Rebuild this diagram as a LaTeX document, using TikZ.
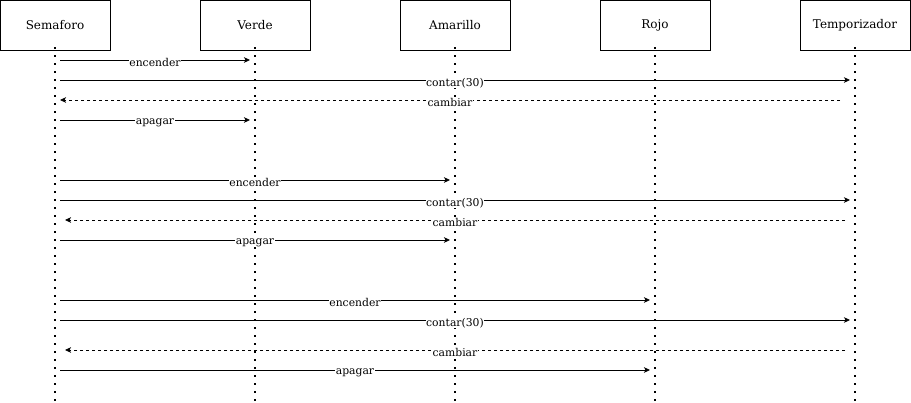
\documentclass[tikz,border=0pt]{standalone}
\usepackage{fontspec}
\setmainfont{DejaVu Serif}
\usetikzlibrary{arrows.meta,calc}
\begin{document}
\begin{tikzpicture}[x=1pt,y=-1pt,
  actor/.style={draw,line width=0.8pt,minimum width=110pt,minimum height=50pt,inner sep=0pt,font=\fontsize{12}{14}\selectfont},
  life/.style={line width=1.6pt,dash pattern=on 1.6pt off 6.4pt},
  msg/.style={line width=0.8pt,-{Stealth[length=6pt,width=5.5pt,inset=1.5pt]}},
  ret/.style={msg,dash pattern=on 3pt off 3pt},
  lbl/.style={fill=white,inner sep=0.5pt,font=\fontsize{10.8}{12}\selectfont,yshift=-2.8pt}]
\useasboundingbox (0,0) rectangle (911,403);
\node[actor] (sem) at (55,25) {Semaforo};
\node[actor] (ver) at (255,25) {Verde};
\node[actor] (ama) at (455,25) {Amarillo};
\node[actor] (roj) at (655,25) {Rojo};
\node[actor] (tem) at (855,25) {Temporizador};
\foreach \n in {sem,ver,ama,roj,tem}{
  \coordinate (\n-end) at ($(\n.south)+(0,353)$);
  \draw[life] ([yshift=3pt]\n.south) -- (\n-end);
}
\foreach \r/\y in {r1/60,r2/80,r3/100,r4/120,r5/180,r6/200,r7/220,r8/240,r9/300,r10/320,r11/350,r12/370}{
  \coordinate (\r) at (0,\y);
}
\draw[msg] ([xshift=5pt]sem |- r1) -- node[lbl]{encender} ([xshift=-5pt]ver |- r1);
\draw[msg] ([xshift=5pt]sem |- r2) -- node[lbl]{contar(30)} ([xshift=-5pt]tem |- r2);
\draw[ret] ([xshift=-15pt]tem |- r3) -- node[lbl]{cambiar} ([xshift=5pt]sem |- r3);
\draw[msg] ([xshift=5pt]sem |- r4) -- node[lbl]{apagar} ([xshift=-5pt]ver |- r4);

\draw[msg] ([xshift=5pt]sem |- r5) -- node[lbl]{encender} ([xshift=-5pt]ama |- r5);
\draw[msg] ([xshift=5pt]sem |- r6) -- node[lbl]{contar(30)} ([xshift=-5pt]tem |- r6);
\draw[ret] ([xshift=-10pt]tem |- r7) -- node[lbl]{cambiar} ([xshift=10pt]sem |- r7);
\draw[msg] ([xshift=5pt]sem |- r8) -- node[lbl]{apagar} ([xshift=-5pt]ama |- r8);

\draw[msg] ([xshift=5pt]sem |- r9) -- node[lbl]{encender} ([xshift=-5pt]roj |- r9);
\draw[msg] ([xshift=5pt]sem |- r10) -- node[lbl]{contar(30)} ([xshift=-5pt]tem |- r10);
\draw[ret] ([xshift=-10pt]tem |- r11) -- node[lbl]{cambiar} ([xshift=10pt]sem |- r11);
\draw[msg] ([xshift=5pt]sem |- r12) -- node[lbl]{apagar} ([xshift=-5pt]roj |- r12);
\end{tikzpicture}
\end{document}
